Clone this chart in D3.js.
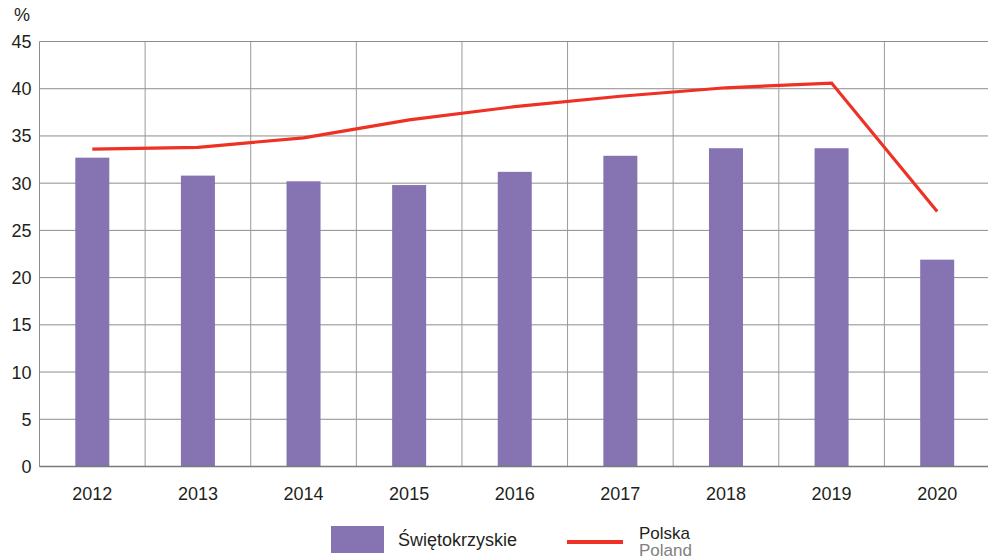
<!DOCTYPE html>
<html>
<head>
<meta charset="utf-8">
<script src="https://cdn.jsdelivr.net/npm/d3@7"></script>
<style>
  body { margin: 0; background: #fff; }
  svg text { font-family: "Liberation Sans", Arial, sans-serif; fill: #231f20; }
</style>
</head>
<body>
<div id="canvas"></div>
<script>
// data
var years = ['2012','2013','2014','2015','2016','2017','2018','2019','2020'];
var regionValues = [32.7, 30.8, 30.2, 29.8, 31.2, 32.9, 33.7, 33.7, 21.9];
var polandValues = [33.6, 33.8, 34.8, 36.7, 38.1, 39.2, 40.1, 40.6, 27.0];
var yTicks = [0, 5, 10, 15, 20, 25, 30, 35, 40, 45];

var W = 988, H = 559;
var m = {t:41.5, r:-2, b:92.5, l:39.5};
var w = W - m.l - m.r,
    h = H - m.t - m.b;

var svg = d3.select('#canvas')
    .append('svg')
    .attr('width', W)
    .attr('height', H);

var plot = svg.append('g')
    .attr('transform', 'translate(' + m.l + ',' + m.t + ')');

var scaleX = d3.scaleBand()
    .domain(years)
    .range([0, w]);

var scaleY = d3.scaleLinear()
    .domain([0, 45])
    .range([h, 0]);

// horizontal grid
plot.append('g')
    .selectAll('line')
    .data(yTicks)
    .enter()
    .append('line')
    .attr('x1', 0)
    .attr('x2', w)
    .attr('y1', function(d){ return scaleY(d); })
    .attr('y2', function(d){ return scaleY(d); })
    .attr('stroke', '#8c8c8c')
    .attr('stroke-width', 1);

// vertical grid between categories
plot.append('g')
    .selectAll('line')
    .data(years)
    .enter()
    .append('line')
    .attr('x1', function(d){ return scaleX(d) + scaleX.bandwidth(); })
    .attr('x2', function(d){ return scaleX(d) + scaleX.bandwidth(); })
    .attr('y1', 0)
    .attr('y2', h)
    .attr('stroke', '#9a9a9a')
    .attr('stroke-width', 1);

// left axis line
plot.append('line')
    .attr('x1', 0).attr('x2', 0)
    .attr('y1', 0).attr('y2', h)
    .attr('stroke', '#8c8c8c');

// bars
var barW = 34;
plot.append('g')
    .selectAll('rect')
    .data(regionValues)
    .enter()
    .append('rect')
    .attr('x', function(d, i){ return scaleX(years[i]) + scaleX.bandwidth()/2 - barW/2; })
    .attr('y', function(d){ return scaleY(d); })
    .attr('width', barW)
    .attr('height', function(d){ return h - scaleY(d); })
    .attr('fill', '#8673b1');

// bottom line over bars
plot.append('line')
    .attr('x1', 0).attr('x2', w)
    .attr('y1', h).attr('y2', h)
    .attr('stroke', '#7a7a7a')
    .attr('stroke-width', 1.5);

// poland line
var line = d3.line()
    .x(function(d, i){ return scaleX(years[i]) + scaleX.bandwidth()/2; })
    .y(function(d){ return scaleY(d); });

plot.append('path')
    .datum(polandValues)
    .attr('d', line)
    .attr('fill', 'none')
    .attr('stroke', '#ee3124')
    .attr('stroke-width', 3.2);

// y tick labels
plot.append('g')
    .selectAll('text')
    .data(yTicks)
    .enter()
    .append('text')
    .attr('x', -8)
    .attr('y', function(d){ return scaleY(d) + 6.5; })
    .attr('text-anchor', 'end')
    .style('font-size', '18px')
    .text(function(d){ return d; });

// x tick labels
plot.append('g')
    .selectAll('text')
    .data(years)
    .enter()
    .append('text')
    .attr('x', function(d){ return scaleX(d) + scaleX.bandwidth()/2; })
    .attr('y', h + 33)
    .attr('text-anchor', 'middle')
    .style('font-size', '18px')
    .text(function(d){ return d; });

// unit
svg.append('text')
    .attr('x', 14)
    .attr('y', 21)
    .style('font-size', '18px')
    .text('%');

// legend
var leg = svg.append('g');
leg.append('rect')
    .attr('x', 331).attr('y', 526)
    .attr('width', 53).attr('height', 27)
    .attr('fill', '#8673b1');
leg.append('text')
    .attr('x', 398).attr('y', 546)
    .style('font-size', '18px')
    .text('Świętokrzyskie');
leg.append('line')
    .attr('x1', 567).attr('x2', 623)
    .attr('y1', 542).attr('y2', 542)
    .attr('stroke', '#ee3124')
    .attr('stroke-width', 4);
leg.append('text')
    .attr('x', 639).attr('y', 539)
    .style('font-size', '17px')
    .text('Polska');
leg.append('text')
    .attr('x', 639).attr('y', 556)
    .style('font-size', '17px')
    .style('fill', '#808080')
    .text('Poland');
</script>
</body>
</html>
